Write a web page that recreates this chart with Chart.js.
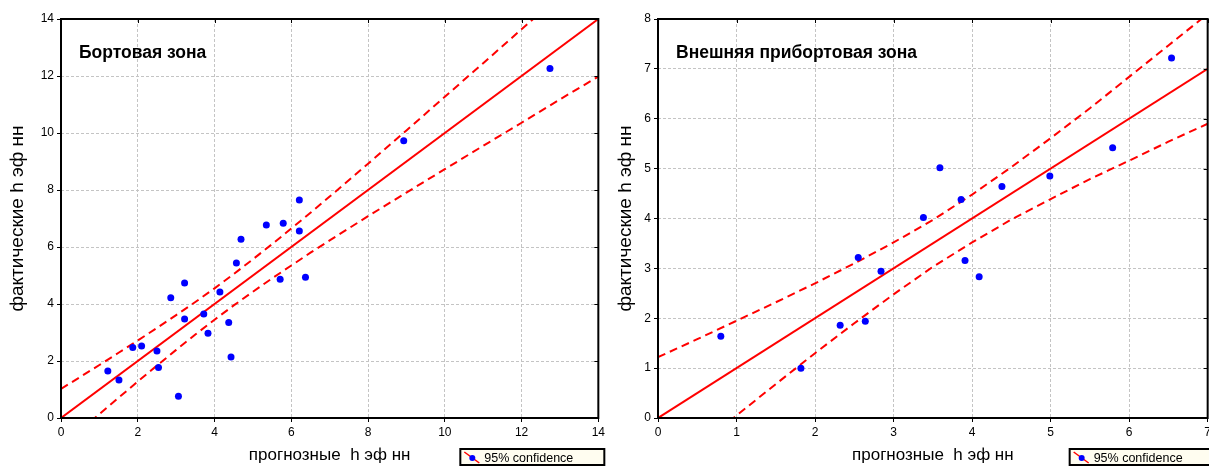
<!DOCTYPE html>
<html>
<head>
<meta charset="utf-8">
<script src="https://cdn.jsdelivr.net/npm/chart.js@4.4.1/dist/chart.umd.min.js"></script>
<style>
  html, body { margin: 0; padding: 0; background: #fff; overflow: hidden; width: 1209px; height: 466px; }
  .box { position: absolute; top: 0; height: 466px; }
  #leftBox { left: 0; width: 608px; }
  #rightBox { left: 608px; width: 606px; }
</style>
</head>
<body>
<div class="box" id="leftBox"><canvas id="bortChart"></canvas></div>
<div class="box" id="rightBox"><canvas id="pribortChart"></canvas></div>
<script>
// Бортовая зона
const bortPredicted = [1.22, 1.51, 1.87, 2.10, 2.50, 2.54, 2.86, 3.06, 3.22, 3.22, 3.72, 3.83, 4.14,
  4.37, 4.43, 4.57, 4.69, 5.35, 5.71, 5.79, 6.21, 6.21, 6.37, 8.93, 12.74];
const bortActual = [1.65, 1.33, 2.47, 2.53, 2.35, 1.77, 4.22, 0.76, 4.74, 3.47, 3.65, 2.97, 4.42,
  3.35, 2.14, 5.44, 6.27, 6.77, 4.87, 6.83, 7.65, 6.56, 4.94, 9.73, 12.26];
const bortFitX = [0, 14];
const bortFitY = [0, 14];
const bortBandX = [0, 0.5, 1, 1.5, 2, 2.5, 3, 3.5, 4, 4.5, 5, 5.5, 6, 6.5, 7, 8, 9, 10, 11, 12, 13, 14];
const bortUpper = [1.02, 1.44, 1.86, 2.29, 2.72, 3.16, 3.61, 4.07, 4.55, 5.05, 5.57, 6.10, 6.65, 7.20,
  7.77, 8.92, 10.09, 11.27, 12.45, 13.64, 14.83, 16.0];
const bortLower = [-1.02, -0.44, 0.14, 0.71, 1.28, 1.84, 2.39, 2.93, 3.45, 3.95, 4.43, 4.90, 5.35, 5.80,
  6.23, 7.08, 7.91, 8.73, 9.55, 10.36, 11.18, 11.98];

// Внешняя прибортовая зона
const pribortPredicted = [0.80, 1.82, 2.32, 2.55, 2.64, 2.84, 3.38, 3.59, 3.86, 3.91, 4.09, 4.38, 4.99, 5.79, 6.54];
const pribortActual = [1.64, 1.00, 1.86, 3.22, 1.94, 2.94, 4.02, 5.02, 4.38, 3.16, 2.83, 4.64, 4.85, 5.42, 7.22];
const pribortFitX = [0, 7];
const pribortFitY = [0, 7];
const pribortBandX = [0, 0.5, 1, 1.5, 2, 2.5, 3, 3.5, 4, 4.5, 5, 5.5, 6, 6.5, 7];
const pribortUpper = [1.22, 1.58, 1.95, 2.32, 2.70, 3.10, 3.52, 3.97, 4.48, 5.03, 5.61, 6.21, 6.84, 7.47, 8.10];
const pribortLower = [-1.22, -0.58, 0.05, 0.68, 1.30, 1.90, 2.48, 3.03, 3.52, 3.98, 4.39, 4.79, 5.16, 5.54, 5.90];

const xTitle = "прогнозные  h эф нн";
const yTitle = "фактические h эф нн";
const legendText = "95% confidence";
const FONT = "'Liberation Sans', Arial, sans-serif";

function toPoints(xs, ys) {
  return xs.map((x, i) => ({ x, y: ys[i] }));
}

// frame, inner ticks, zone title and the little legend box
const zoneDecor = {
  id: "zoneDecor",
  afterDraw(chart, args, opts) {
    const { ctx, chartArea: a, scales } = chart;
    ctx.save();
    ctx.strokeStyle = "#000";
    ctx.lineWidth = 2;
    ctx.strokeRect(a.left, a.top, a.right - a.left, a.bottom - a.top);

    ctx.lineWidth = 1;
    ctx.beginPath();
    scales.x.ticks.forEach((t) => {
      const px = Math.round(scales.x.getPixelForValue(t.value)) + 0.5;
      ctx.moveTo(px, a.top);
      ctx.lineTo(px, a.top + 4);
    });
    scales.y.ticks.forEach((t) => {
      const py = Math.round(scales.y.getPixelForValue(t.value)) + 0.5;
      ctx.moveTo(a.right, py);
      ctx.lineTo(a.right - 4, py);
    });
    ctx.stroke();

    ctx.fillStyle = "#000";
    ctx.font = "bold 17.5px " + FONT;
    ctx.textBaseline = "alphabetic";
    ctx.fillText(opts.title, a.left + 18, a.top + 39);

    // legend
    const lx = a.right - 138, ly = a.bottom + 31, lw = 144, lh = 16;
    ctx.fillStyle = "#fffdf0";
    ctx.fillRect(lx, ly, lw, lh);
    ctx.lineWidth = 2;
    ctx.strokeStyle = "#000";
    ctx.strokeRect(lx, ly, lw, lh);
    ctx.strokeStyle = "#ff0000";
    ctx.lineWidth = 1.5;
    ctx.beginPath();
    ctx.moveTo(lx + 4, ly + 3);
    ctx.lineTo(lx + 19, ly + 14);
    ctx.stroke();
    ctx.fillStyle = "#0000ff";
    ctx.beginPath();
    ctx.arc(lx + 12, ly + 9, 3, 0, Math.PI * 2);
    ctx.fill();
    ctx.fillStyle = "#000";
    ctx.font = "12.5px " + FONT;
    ctx.fillText(legendText, lx + 24, ly + 13);
    ctx.restore();
  },
};

function makeChart(id, cfg) {
  return new Chart(document.getElementById(id), {
    type: "scatter",
    data: {
      datasets: [
        {
          data: toPoints(cfg.px, cfg.py),
          backgroundColor: "#0000ff",
          borderWidth: 0,
          pointRadius: 3.5,
        },
        {
          data: toPoints(cfg.fitX, cfg.fitY),
          showLine: true,
          pointRadius: 0,
          borderColor: "#ff0000",
          borderWidth: 2,
        },
        {
          data: toPoints(cfg.bandX, cfg.upper),
          showLine: true,
          pointRadius: 0,
          borderColor: "#ff0000",
          borderWidth: 2,
          borderDash: [8, 5],
        },
        {
          data: toPoints(cfg.bandX, cfg.lower),
          showLine: true,
          pointRadius: 0,
          borderColor: "#ff0000",
          borderWidth: 2,
          borderDash: [8, 5],
        },
      ],
    },
    options: {
      responsive: true,
      maintainAspectRatio: false,
      animation: false,
      events: [],
      layout: { padding: { top: 19, right: cfg.padRight, left: 0, bottom: 0 } },
      plugins: {
        legend: { display: false },
        tooltip: { enabled: false },
        zoneDecor: { title: cfg.title },
      },
      scales: {
        x: {
          type: "linear",
          min: 0,
          max: cfg.xMax,
          ticks: { stepSize: cfg.xStep, color: "#000", font: { size: 12, family: FONT }, padding: 3 },
          grid: { color: "#c4c4c4", tickColor: "#000", tickLength: 4 },
          border: { display: false, dash: [3, 2] },
          title: {
            display: true,
            text: xTitle,
            color: "#000",
            font: { size: 17, family: FONT },
            padding: { top: 0, bottom: 0 },
          },
          afterFit: (s) => { s.height = 48; },
        },
        y: {
          type: "linear",
          min: 0,
          max: cfg.yMax,
          ticks: { stepSize: cfg.yStep, color: "#000", font: { size: 12, family: FONT }, padding: 3 },
          grid: { color: "#c4c4c4", tickColor: "#000", tickLength: 4 },
          border: { display: false, dash: [3, 2] },
          title: {
            display: true,
            text: yTitle,
            color: "#000",
            font: { size: 19, family: FONT },
            padding: { top: 6, bottom: 0 },
          },
          afterFit: (s) => { s.width = cfg.yWidth; },
        },
      },
    },
    plugins: [zoneDecor],
  });
}

makeChart("bortChart", {
  title: "Бортовая зона",
  px: bortPredicted, py: bortActual,
  fitX: bortFitX, fitY: bortFitY,
  bandX: bortBandX, upper: bortUpper, lower: bortLower,
  xMax: 14, xStep: 2, yMax: 14, yStep: 2,
  yWidth: 61, padRight: 8,
});

makeChart("pribortChart", {
  title: "Внешняя прибортовая зона",
  px: pribortPredicted, py: pribortActual,
  fitX: pribortFitX, fitY: pribortFitY,
  bandX: pribortBandX, upper: pribortUpper, lower: pribortLower,
  xMax: 7, xStep: 1, yMax: 8, yStep: 1,
  yWidth: 50, padRight: 4,
});
</script>
</body>
</html>
